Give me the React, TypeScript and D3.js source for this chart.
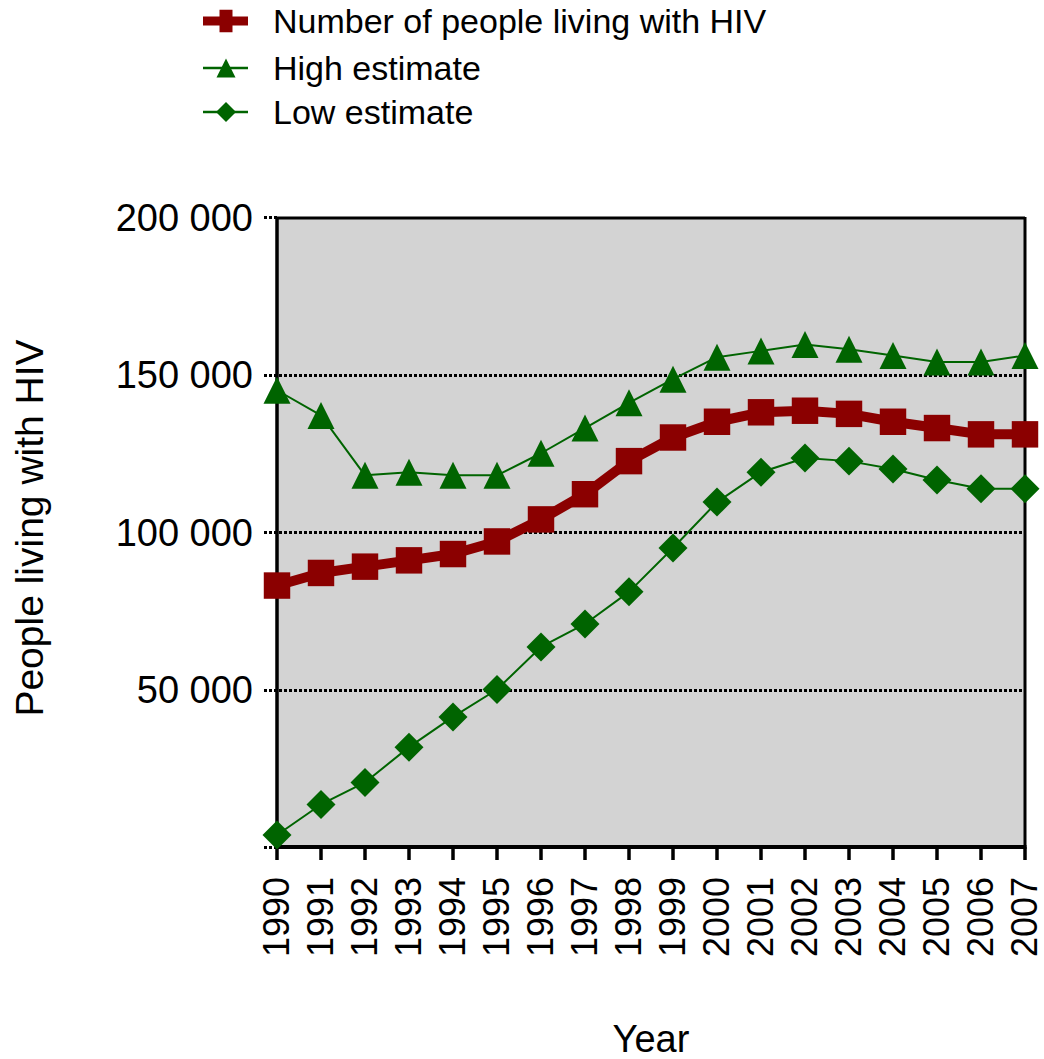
import { useEffect, useRef } from 'react'
import * as d3 from 'd3'

const years = [1990, 1991, 1992, 1993, 1994, 1995, 1996, 1997, 1998, 1999, 2000, 2001, 2002, 2003, 2004, 2005, 2006, 2007]
const peopleLiving = [83000, 87000, 89000, 91000, 93000, 97000, 104000, 112000, 122500, 130000, 135000, 138000, 138500, 137500, 135000, 133000, 131000, 131000]
const highEstimate = [145000, 137000, 118000, 119000, 118000, 118000, 125000, 133000, 141000, 148500, 155500, 157500, 159500, 158000, 156000, 154000, 154000, 156000]
const lowEstimate = [3800, 13500, 20500, 31700, 41300, 50000, 63500, 70800, 81000, 94900, 109500, 119000, 123500, 122500, 120000, 116500, 113700, 113700]
const yTicks = [0, 50000, 100000, 150000, 200000]
const yTickLabels = ['', '50 000', '100 000', '150 000', '200 000']

const RED = '#8b0000'
const GREEN = '#006400'
const FONT = '"Liberation Sans", Arial, Helvetica, sans-serif'

// tall triangle, centred on its mid-height
const triangle = {
  draw(ctx: any, size: number) {
    const w = Math.sqrt(size)
    ctx.moveTo(0, -w / 2)
    ctx.lineTo(w / 2, w / 2)
    ctx.lineTo(-w / 2, w / 2)
    ctx.closePath()
  },
}

export default function App() {
  const svgRef = useRef<SVGSVGElement>(null)
  const width = 1044
  const height = 1059

  useEffect(() => {
    if (!svgRef.current) return
    const svg = d3.select(svgRef.current)
    svg.selectAll('*').remove()

    const left = 277, right = 1025, top = 217, bottom = 847

    const x = d3.scaleLinear().domain([1990, 2007]).range([left, right])
    const y = d3.scaleLinear().domain([0, 200000]).range([bottom, top])

    // plot background
    svg.append('rect')
      .attr('x', left).attr('y', top)
      .attr('width', right - left).attr('height', bottom - top)
      .attr('fill', '#d3d3d3')

    // dotted grid + ticks
    svg.append('g')
      .selectAll('line')
      .data(yTicks)
      .enter()
      .append('line')
      .attr('x1', 264)
      .attr('x2', d => (d === 0 || d === 200000 ? left : right))
      .attr('y1', d => Math.round(y(d)) + 0.5)
      .attr('y2', d => Math.round(y(d)) + 0.5)
      .attr('stroke', '#000')
      .attr('stroke-width', 3)
      .attr('stroke-dasharray', '3,2')

    // frame
    svg.append('line').attr('x1', left).attr('x2', right).attr('y1', top + 1).attr('y2', top + 1)
      .attr('stroke', '#000').attr('stroke-width', 3)
    svg.append('line').attr('x1', right).attr('x2', right).attr('y1', top).attr('y2', bottom)
      .attr('stroke', '#000').attr('stroke-width', 3)
    svg.append('line').attr('x1', left).attr('x2', left).attr('y1', top).attr('y2', bottom + 2)
      .attr('stroke', '#000').attr('stroke-width', 3.5)
    svg.append('line').attr('x1', left - 2).attr('x2', right + 1.5).attr('y1', bottom).attr('y2', bottom)
      .attr('stroke', '#000').attr('stroke-width', 4)

    // y labels
    svg.append('g')
      .selectAll('text')
      .data(yTicks)
      .enter()
      .append('text')
      .attr('x', 253)
      .attr('y', d => y(d))
      .attr('dy', '0.36em')
      .attr('text-anchor', 'end')
      .attr('font-family', FONT)
      .attr('font-size', 38)
      .attr('fill', '#000')
      .text((d, i) => yTickLabels[i])

    // x ticks
    svg.append('g')
      .selectAll('line')
      .data(years)
      .enter()
      .append('line')
      .attr('x1', d => x(d)).attr('x2', d => x(d))
      .attr('y1', bottom).attr('y2', bottom + 13)
      .attr('stroke', '#000').attr('stroke-width', 3.5)

    svg.append('g')
      .selectAll('text')
      .data(years)
      .enter()
      .append('text')
      .attr('transform', d => `translate(${x(d)},877) rotate(-90)`)
      .attr('dy', '0.34em')
      .attr('text-anchor', 'end')
      .attr('font-family', FONT)
      .attr('font-size', 36)
      .attr('fill', '#000')
      .text(d => String(d))

    // axis titles
    svg.append('text')
      .attr('transform', 'translate(43,528) rotate(-90)')
      .attr('text-anchor', 'middle')
      .attr('font-family', FONT)
      .attr('font-size', 39)
      .attr('fill', '#000')
      .text('People living with HIV')

    svg.append('text')
      .attr('x', 651).attr('y', 1052)
      .attr('text-anchor', 'middle')
      .attr('font-family', FONT)
      .attr('font-size', 38)
      .attr('fill', '#000')
      .text('Year')

    const line = d3.line<number>().x((d, i) => x(years[i])).y(d => y(d))

    const series = [
      { values: lowEstimate, color: GREEN, lw: 2, symbol: d3.symbolSquare, size: 420, rotate: 45 },
      { values: highEstimate, color: GREEN, lw: 2, symbol: triangle, size: 729, rotate: 0 },
      { values: peopleLiving, color: RED, lw: 10, symbol: d3.symbolSquare, size: 700, rotate: 0 },
    ]

    series.forEach(s => {
      svg.append('path')
        .attr('d', line(s.values))
        .attr('fill', 'none')
        .attr('stroke', s.color)
        .attr('stroke-width', s.lw)
        .attr('stroke-linejoin', 'round')
      svg.append('g')
        .selectAll('path')
        .data(s.values)
        .enter()
        .append('path')
        .attr('d', d3.symbol(s.symbol as any, s.size)())
        .attr('transform', (d, i) => `translate(${x(years[i])},${y(d)}) rotate(${s.rotate})`)
        .attr('fill', s.color)
    })

    // legend
    const legend = [
      { label: 'Number of people living with HIV', color: RED, lw: 9, symbol: d3.symbolSquare, size: 300, rotate: 0, yy: 21, scaleY: 1.3, scaleX: 0.75 },
      { label: 'High estimate', color: GREEN, lw: 2.5, symbol: triangle, size: 360, rotate: 0, yy: 68, scaleY: 1, scaleX: 1 },
      { label: 'Low estimate', color: GREEN, lw: 2.5, symbol: d3.symbolSquare, size: 200, rotate: 45, yy: 112, scaleY: 1, scaleX: 1 },
    ]
    const lg = svg.append('g')
    legend.forEach(l => {
      lg.append('line')
        .attr('x1', 203).attr('x2', 248)
        .attr('y1', l.yy).attr('y2', l.yy)
        .attr('stroke', l.color).attr('stroke-width', l.lw)
      lg.append('path')
        .attr('d', d3.symbol(l.symbol as any, l.size)())
        .attr('transform', `translate(226,${l.yy}) scale(${l.scaleX},${l.scaleY}) rotate(${l.rotate})`)
        .attr('fill', l.color)
      lg.append('text')
        .attr('x', 273).attr('y', l.yy + 12)
        .attr('font-family', FONT)
        .attr('font-size', 34)
        .attr('fill', '#000')
        .text(l.label)
    })
  }, [])

  return (
    <svg
      ref={svgRef}
      width={width}
      height={height}
      style={{ position: 'absolute', left: 0, top: 0, background: '#fff' }}
    />
  )
}
